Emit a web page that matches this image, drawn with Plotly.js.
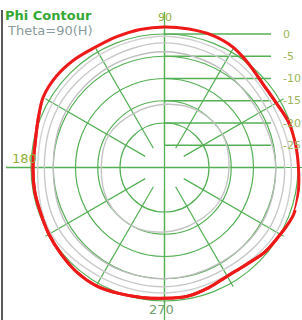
<!DOCTYPE html>
<html><head><meta charset="utf-8">
<script src="https://cdn.plot.ly/plotly-3.0.1.min.js"></script>
<style>html,body{margin:0;padding:0;background:#fff}#chart{width:302px;height:320px}</style>
</head><body><div id="chart"></div>
<script>
// ---- data ----
const redAngles = [0,10,20,30,40,50,60,70,80,90,100,110,120,130,140,150,160,170,180,190,200,210,220,230,240,250,260,270,280,290,300,310,320,330,340,350,360];
const redDb = [0.1,-0.1,-0.3,-1.0,-1.0,-0.1,1.1,1.6,1.6,1.6,1.5,1.3,1.2,1.6,1.8,1.5,0.3,-0.45,-0.45,-0.35,-0.35,0.0,0.3,0.7,0.7,0.1,-0.35,-0.6,-0.6,-1.2,-1.8,-1.5,-0.5,0.05,0.9,0.55,0.1];
const grayAngles = [0,30,60,90,120,150,180,210,240,270,300,330,360];
const gray1Db = [-1.5,-2.0,-1.0,-0.5,-0.8,-1.0,-1.5,-0.5,-1.5,-1.8,-2.0,-1.0,-1.5];
const gray2Db = [-3.0,-3.5,-2.5,-2.0,-2.5,-2.5,-3.0,-2.5,-3.0,-3.2,-3.5,-2.8,-3.0];
const gray3Db = [-5.0,-5.5,-4.5,-4.0,-4.2,-4.5,-5.0,-4.5,-4.8,-5.0,-5.2,-4.8,-5.0];
const gray4Db = [-15.5,-15.0,-15.2,-15.8,-16.0,-15.5,-15.8,-15.2,-15.0,-15.5,-15.8,-15.5,-15.5];
const levels = [0,-5,-10,-15,-20,-25];
const levelLabels = ['0','-5','-10','-15','-20','-25'];
const spokeAngles = [0,30,60,90,120,150,180,210,240,270,300,330];
const angleLabelText = ['90','180','270'];
const titleText = 'Phi Contour';
const subtitleText = 'Theta=90(H)';

// ---- layout constants ----
const W = 302, H = 320, CX = 164.5, CY = 167.5, PX = 4.45, DBMIN = -30, RMAX = 0.9, RMAX2 = 2.5;
const SECTOR2 = [18, 342];
const GRID = '#55b055';
const R = (RMAX - DBMIN) * PX;
const R2 = (RMAX2 - DBMIN) * PX;
const u = v => v - DBMIN;           // dB -> radius units
const xu = px => (px - CX) / PX;    // pixel x -> overlay units
const yu = py => (CY - py) / PX;    // pixel y -> overlay units
const clamp = f => Math.max(0, Math.min(1, f));

const traces = [];
levels.forEach(l => traces.push({type:'scatter', mode:'lines', x:[0, xu(271)], y:[u(l), u(l)],
  line:{color:GRID, width:1.3}, hoverinfo:'skip', showlegend:false}));
traces.push({type:'scatter', mode:'lines', x:[0,0], y:[yu(12), yu(H)], line:{color:GRID,width:1.3}, hoverinfo:'skip', showlegend:false});
traces.push({type:'scatter', mode:'lines', x:[xu(6), xu(284)], y:[0,0], line:{color:GRID,width:1.3}, hoverinfo:'skip', showlegend:false});

const grays = [gray4Db, gray3Db, gray2Db, gray1Db];
const grayCols = ['#c4c4c4','#bdbdbd','#c8c8c8','#d0d0d0'];
grays.forEach((g,i) => traces.push({type:'scatterpolar', subplot:'polar', mode:'lines', r:g, theta:grayAngles,
  line:{color:grayCols[i], width:1.4, shape:'spline'}, hoverinfo:'skip', showlegend:false}));
// red pattern: drawn in both polar frames (same centre and scale) so that no part is clipped
['polar','polar2'].forEach(sp => traces.push({type:'scatterpolar', subplot:sp, mode:'lines', r:redDb, theta:redAngles,
  line:{color:'#ee1a1a', width:3, shape:'spline'}, showlegend:false}));

const ann = [];
levels.forEach((l,i) => ann.push({xref:'x', yref:'y', x:xu(281), y:u(l), text:levelLabels[i], showarrow:false,
  xanchor:'left', yanchor:'middle', font:{family:'DejaVu Sans', size:11, color:'#9db55a'}}));
ann.push({xref:'x', yref:'y', x:0, y:yu(17), text:angleLabelText[0], showarrow:false, xanchor:'center', yanchor:'middle',
  font:{family:'DejaVu Sans', size:11, color:'#8fae3c'}});
ann.push({xref:'x', yref:'y', x:xu(10), y:yu(158), text:angleLabelText[1], showarrow:false, xanchor:'left', yanchor:'middle',
  font:{family:'DejaVu Sans', size:13, color:'#8fae3c'}});
ann.push({xref:'x', yref:'y', x:xu(161.5), y:yu(309), text:angleLabelText[2], showarrow:false, xanchor:'center', yanchor:'middle',
  font:{family:'DejaVu Sans', size:13, color:'#6fa070'}});
ann.push({xref:'paper', yref:'paper', x:5/W, y:1-30/H, text:subtitleText, showarrow:false, xanchor:'left', yanchor:'middle',
  font:{family:'DejaVu Sans', size:13, color:'#8a9c9c'}});

const cos2 = Math.max(Math.cos(SECTOR2[0]*Math.PI/180), Math.cos(SECTOR2[1]*Math.PI/180));
const layout = {
  width:W, height:H, margin:{l:0,r:0,t:0,b:0,pad:0},
  paper_bgcolor:'#fff', plot_bgcolor:'rgba(0,0,0,0)', showlegend:false,
  title:{text:'<b>'+titleText+'</b>', x:5/W, xanchor:'left', y:1-15/H, yanchor:'middle', yref:'container',
    font:{family:'DejaVu Sans', size:13, color:'#36a836'}},
  xaxis:{domain:[0,1], range:[xu(0), xu(W)], visible:false, fixedrange:true},
  yaxis:{domain:[0,1], range:[yu(H), yu(0)], visible:false, fixedrange:true},
  polar:{
    domain:{x:[clamp((CX-R)/W), clamp((CX+R)/W)], y:[clamp((H-CY-R)/H), clamp((H-CY+R)/H)]},
    bgcolor:'rgba(0,0,0,0)',
    hole: (u(-25)*PX)/R,
    radialaxis:{range:[-25, RMAX], tickmode:'array', tickvals:levels, showticklabels:false, ticks:'', showline:false,
      gridcolor:GRID, gridwidth:1.2},
    angularaxis:{rotation:0, direction:'counterclockwise', tickmode:'array', tickvals:spokeAngles, showticklabels:false,
      ticks:'', showline:false, gridcolor:GRID, gridwidth:1.2}
  },
  polar2:{
    domain:{x:[clamp((CX-R2)/W), clamp((CX+R2*cos2)/W)], y:[clamp((H-CY-R2)/H), clamp((H-CY+R2)/H)]},
    sector: SECTOR2,
    bgcolor:'rgba(0,0,0,0)',
    radialaxis:{range:[DBMIN, RMAX2], visible:false},
    angularaxis:{rotation:0, direction:'counterclockwise', showgrid:false, showline:false, showticklabels:false, ticks:''}
  },
  annotations: ann,
  shapes:[{type:'line', xref:'paper', yref:'paper', x0:2/W, x1:2/W, y0:0, y1:1-10/H, line:{color:'#5a5a5a', width:2}}]
};
Plotly.newPlot('chart', traces, layout, {staticPlot:true, displayModeBar:false});
</script></body></html>
